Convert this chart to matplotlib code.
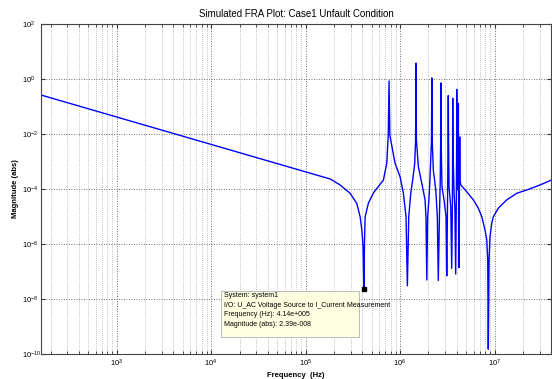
import matplotlib
matplotlib.use("Agg")
import matplotlib.pyplot as plt
from matplotlib.patches import Rectangle
from matplotlib.ticker import LogLocator, NullFormatter

plt.rcParams['font.family'] = ['Liberation Sans', 'DejaVu Sans']

# frequency response (Hz, abs)
freq_hz = [158, 1.0e5, 1.83e5, 2.32e5, 2.96e5, 3.48e5, 3.78e5, 3.94e5, 4.06e5, 4.14e5,
           4.21e5, 4.27e5, 4.63e5, 5.22e5, 6.66e5, 7.23e5, 7.5e5, 7.65e5, 7.8e5, 8.85e5,
           1.0e6, 1.084e6, 1.157e6, 1.195e6, 1.236e6, 1.298e6, 1.36e6, 1.43e6, 1.46e6, 1.476e6,
           1.49e6, 1.563e6, 1.70e6, 1.84e6, 1.88e6, 1.92e6, 1.96e6, 2.04e6, 2.09e6, 2.15e6,
           2.17e6, 2.19e6, 2.25e6, 2.39e6, 2.48e6, 2.54e6, 2.61e6, 2.66e6, 2.69e6, 2.70e6,
           2.72e6, 2.78e6, 2.92e6, 3.07e6, 3.12e6, 3.17e6, 3.22e6, 3.24e6, 3.26e6, 3.30e6,
           3.44e6, 3.52e6, 3.58e6, 3.60e6, 3.61e6, 3.63e6, 3.73e6, 3.80e6, 3.88e6, 3.94e6,
           3.97e6, 3.98e6, 3.99e6, 4.08e6, 4.13e6, 4.14e6, 4.15e6, 4.18e6, 4.21e6, 4.25e6,
           4.28e6, 4.31e6, 4.4e6, 5.08e6, 5.97e6, 6.74e6, 7.33e6, 7.93e6, 8.28e6, 8.47e6,
           8.59e6, 8.75e6, 8.95e6, 9.34e6, 9.71e6, 1.096e7, 1.345e7, 1.72e7, 2.19e7, 3.03e7,
           3.98e7]
magnitude = [0.262, 4.2e-4, 2.3e-4, 1.4e-4, 7.0e-5, 3.0e-5, 9.8e-6, 3.2e-6, 8e-7, 2.39e-8,
             1.5e-6, 9.8e-6, 3.1e-5, 7.2e-5, 2.1e-4, 8.6e-4, 9e-3, 0.85, 9e-3, 8.6e-4,
             2.8e-4, 7e-5, 9.8e-6, 3e-8, 9.8e-6, 7e-5, 2.1e-4, 8.6e-4, 6e-3, 3.8,
             6e-3, 6.4e-4, 1.6e-4, 4e-5, 9.8e-6, 4.9e-8, 9.8e-6, 7e-5, 4.9e-4, 6e-3,
             1.09, 6e-3, 4.9e-4, 9e-5, 9.8e-6, 4.7e-8, 9.8e-6, 1.5e-4, 5e-3, 0.72,
             5e-3, 1.2e-4, 4e-5, 9.8e-6, 6.9e-8, 9.8e-6, 5e-3, 0.25, 5e-3, 1.2e-4,
             2.3e-5, 1.3e-7, 2.3e-5, 3e-3, 0.2, 3e-3, 7e-5, 2.3e-5, 8.1e-8, 4e-5,
             3e-3, 0.42, 3e-3, 9.2e-5, 2e-3, 0.13, 2e-3, 4e-5, 1.4e-7, 1e-4,
             7.8e-3, 2e-4, 1.4e-4, 7.9e-5, 4e-5, 2e-5, 9.8e-6, 3.2e-6, 1.4e-6, 2.6e-7,
             1.5e-10, 2.6e-7, 1.8e-6, 5.6e-6, 9.8e-6, 2e-5, 4e-5, 7e-5, 9.2e-5, 1.4e-4,
             2.1e-4]

tip_freq = 4.14e5
tip_mag = 2.39e-8
tip_lines = ["System: system1",
             "I/O: U_AC Voltage Source to I_Current Measurement",
             "Frequency (Hz): 4.14e+005",
             "Magnitude (abs): 2.39e-008"]

x_ticks = [1e3, 1e4, 1e5, 1e6, 1e7]
y_ticks = [1e-10, 1e-8, 1e-6, 1e-4, 1e-2, 1e0, 1e2]

fig = plt.figure(figsize=(5.52, 3.79), dpi=100)
ax = fig.add_axes([0.0743, 0.066, 0.9243, 0.8707])

ax.loglog(freq_hz, magnitude, color='#0000ff', lw=1.0)
ax.plot(tip_freq, tip_mag, 's', color='black', ms=3.2, zorder=5)

ax.set_xlim(10 ** 2.2, 10 ** 7.6)
ax.set_ylim(1e-10, 1e2)
ax.set_xticks(x_ticks)
ax.set_yticks(y_ticks)
ax.yaxis.set_minor_locator(LogLocator(base=10, subs=[]))
ax.xaxis.set_minor_locator(LogLocator(base=10, subs=range(2, 10), numticks=20))
ax.xaxis.set_minor_formatter(NullFormatter())

ax.grid(True, which='major', axis='both', color='#444444', ls=(0, (1, 2)), lw=0.6)
ax.grid(True, which='minor', axis='x', color='#888888', ls=(0, (1, 2)), lw=0.5)

ax.tick_params(which='both', direction='in', top=True, right=True, labelsize=5.5,
               color='#333333')
ax.tick_params(which='major', length=3)
ax.tick_params(which='minor', length=2)
ax.tick_params(axis='x', pad=3)
ax.tick_params(axis='y', pad=13.5)
for lab in ax.get_yticklabels():
    lab.set_horizontalalignment('left')
for s in ax.spines.values():
    s.set_color('#444444')
    s.set_linewidth(0.8)

ax.set_title("Simulated FRA Plot: Case1 Unfault Condition", fontsize=7, pad=5)
ax.set_xlabel("Frequency  (Hz)", fontsize=5.5, fontweight='bold', labelpad=2)
ax.set_ylabel("Magnitude (abs)", fontsize=5.5, fontweight='bold', labelpad=2)

# data tip box
ax.add_patch(Rectangle((0.353, 0.0515), 0.27, 0.14, transform=ax.transAxes,
                       facecolor='#ffffe1', edgecolor='#b0b0b0', lw=0.6, zorder=6))
for i, line in enumerate(tip_lines):
    ax.text(0.359, 0.1758 - i * 0.0288, line, transform=ax.transAxes, fontsize=5,
            va='center', ha='left', zorder=7)

fig.savefig("out.png", dpi=100)
